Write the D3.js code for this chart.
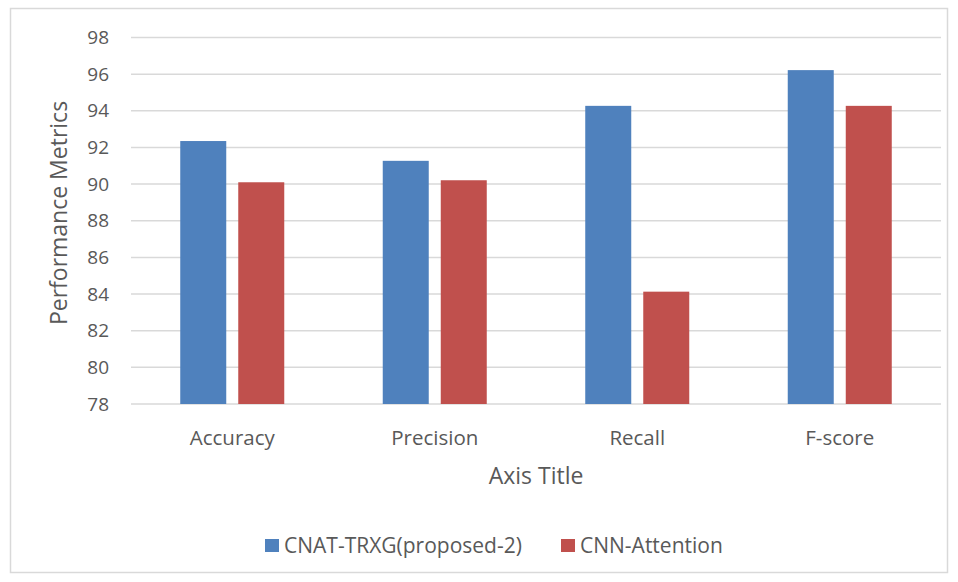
<!DOCTYPE html>
<html>
<head>
<meta charset="utf-8">
<script src="https://cdn.jsdelivr.net/npm/d3@7"></script>
<style>
  html, body { margin: 0; padding: 0; background: #fff; }
  svg text { font-family: "Open Sans", "Liberation Sans", sans-serif; fill: #595959; }
</style>
</head>
<body>
<svg id="chart" width="958" height="582"></svg>
<script>
// Metric categories and the two model series
const categories = ["Accuracy", "Precision", "Recall", "F-score"];
const seriesNames = ["CNAT-TRXG(proposed-2)", "CNN-Attention"];
const proposedValues = [92.35, 91.27, 94.27, 96.22];
const attentionValues = [90.1, 90.21, 84.13, 94.27];
const yTicks = [78, 80, 82, 84, 86, 88, 90, 92, 94, 96, 98];
const colors = ["#4F81BD", "#C0504D"];

const svg = d3.select("#chart");
const font = "Open Sans, Liberation Sans, sans-serif";

// Outer chart frame
svg.append("rect")
  .attr("x", 10.5).attr("y", 8.5)
  .attr("width", 937).attr("height", 564)
  .attr("fill", "#fff").attr("stroke", "#d9d9d9").attr("stroke-width", 1.5);

const plot = { left: 131, right: 941, top: 37.5, bottom: 404 };

const x = d3.scaleBand().domain(categories)
  .range([plot.left, plot.right]).paddingInner(0).paddingOuter(0);
const sub = d3.scaleBand().domain(seriesNames)
  .range([0, x.bandwidth()]).paddingInner(0.207).paddingOuter(0.849);
const y = d3.scaleLinear().domain([78, 98]).range([plot.bottom, plot.top]);

// Horizontal gridlines
svg.append("g").selectAll("line").data(yTicks).join("line")
  .attr("x1", plot.left).attr("x2", plot.right)
  .attr("y1", d => y(d)).attr("y2", d => y(d))
  .attr("stroke", "#d9d9d9").attr("stroke-width", 1.5);

// Y axis tick labels
const yAxis = d3.axisLeft(y).tickValues(yTicks).tickSize(0).tickPadding(0);
const yg = svg.append("g").attr("transform", `translate(${plot.left - 22},0)`).call(yAxis);
yg.select(".domain").remove();
yg.selectAll("text").attr("font-size", 19).style("fill", "#595959").attr("font-family", font);

// Bars
const data = categories.map((c, i) => ({ cat: c, vals: [proposedValues[i], attentionValues[i]] }));
const groups = svg.append("g").selectAll("g").data(data).join("g")
  .attr("transform", d => `translate(${x(d.cat)},0)`);
groups.selectAll("rect").data(d => d.vals.map((v, k) => ({ name: seriesNames[k], v, k })))
  .join("rect")
  .attr("x", d => sub(d.name))
  .attr("width", sub.bandwidth())
  .attr("y", d => y(d.v))
  .attr("height", d => y(78) - y(d.v))
  .attr("fill", d => colors[d.k]);

// X axis category labels
const xAxis = d3.axisBottom(x).tickSize(0).tickPadding(0);
const xg = svg.append("g").attr("transform", `translate(0,${plot.bottom + 26})`).call(xAxis);
xg.select(".domain").remove();
xg.selectAll("text").attr("font-size", 20.5).style("fill", "#595959").attr("font-family", font);

// Axis titles
svg.append("text")
  .attr("x", (plot.left + plot.right) / 2).attr("y", 484)
  .attr("text-anchor", "middle").attr("font-size", 23)
  .text("Axis Title");
svg.append("text")
  .attr("transform", `translate(67,213) rotate(-90)`)
  .attr("text-anchor", "middle").attr("font-size", 23)
  .text("Performance Metrics");

// Legend
const legendItems = [
  { name: seriesNames[0], color: colors[0], x: 265 },
  { name: seriesNames[1], color: colors[1], x: 561 }
];
const lg = svg.append("g").selectAll("g").data(legendItems).join("g")
  .attr("transform", d => `translate(${d.x},539)`);
lg.append("rect").attr("width", 14).attr("height", 13).attr("fill", d => d.color);
lg.append("text").attr("x", 19).attr("y", 13.5).attr("font-size", 21).text(d => d.name);
</script>
</body>
</html>
